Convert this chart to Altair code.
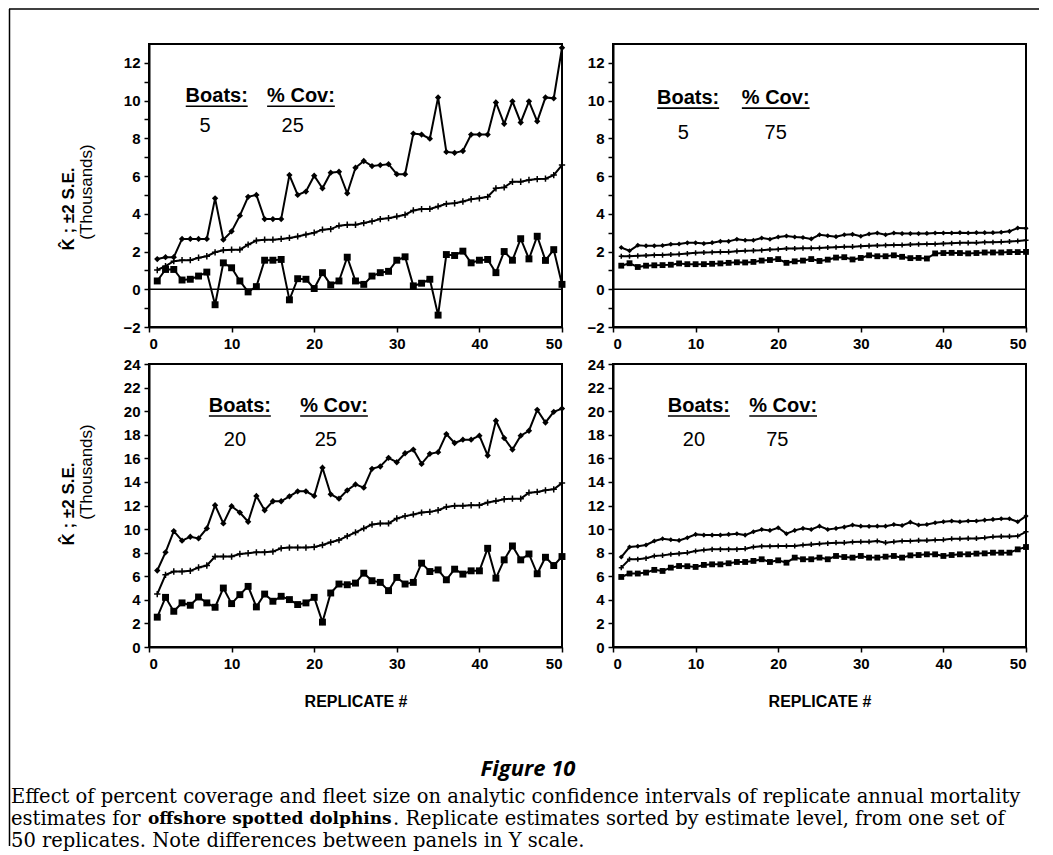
import altair as alt
import pandas as pd

replicate = list(range(1, 51))

# Panel: 5 boats, 25 % coverage
tl_upper = [1.60, 1.70, 1.70, 2.67, 2.67, 2.67, 2.67, 4.82, 2.63, 3.07,
            3.90, 4.90, 5.00, 3.72, 3.72, 3.72, 6.05, 5.00, 5.18, 6.02,
            5.35, 6.18, 6.23, 5.09, 6.44, 6.80, 6.53, 6.58, 6.63, 6.10,
            6.10, 8.25, 8.20, 7.98, 10.17, 7.28, 7.23, 7.33, 8.20, 8.20,
            8.20, 9.90, 8.77, 9.96, 8.84, 9.96, 8.90, 10.17, 10.12, 12.80]
tl_middle = [1.02, 1.23, 1.49, 1.54, 1.54, 1.67, 1.75, 1.96, 2.07, 2.10,
             2.10, 2.37, 2.58, 2.63, 2.63, 2.67, 2.72, 2.80, 2.90, 3.00,
             3.16, 3.19, 3.37, 3.42, 3.42, 3.51, 3.60, 3.72, 3.77, 3.86,
             3.95, 4.18, 4.25, 4.26, 4.39, 4.53, 4.56, 4.65, 4.77, 4.82,
             4.90, 5.35, 5.40, 5.70, 5.70, 5.79, 5.84, 5.86, 6.05, 6.58]
tl_lower = [0.44, 1.05, 1.05, 0.49, 0.53, 0.70, 0.91, -0.82, 1.40, 1.14,
            0.44, -0.14, 0.14, 1.54, 1.54, 1.58, -0.56, 0.56, 0.53, 0.04,
            0.88, 0.23, 0.44, 1.70, 0.44, 0.26, 0.70, 0.88, 0.95, 1.54,
            1.72, 0.18, 0.32, 0.53, -1.37, 1.84, 1.79, 2.02, 1.40, 1.54,
            1.58, 0.88, 2.00, 1.54, 2.68, 1.61, 2.81, 1.53, 2.10, 0.26]

# Panel: 5 boats, 75 % coverage
tr_upper = [2.21, 2.04, 2.33, 2.30, 2.30, 2.32, 2.39, 2.40, 2.46, 2.46,
            2.42, 2.47, 2.54, 2.54, 2.65, 2.60, 2.60, 2.72, 2.65, 2.77,
            2.82, 2.77, 2.74, 2.67, 2.89, 2.84, 2.79, 2.89, 2.91, 2.81,
            2.93, 2.98, 2.89, 2.98, 2.95, 2.95, 2.95, 2.96, 2.98, 2.98,
            2.98, 3.00, 2.98, 3.00, 3.00, 3.00, 3.02, 3.07, 3.25, 3.23]
tr_middle = [1.75, 1.75, 1.77, 1.79, 1.81, 1.81, 1.84, 1.86, 1.89, 1.93,
             1.95, 1.96, 1.98, 1.98, 2.02, 2.04, 2.05, 2.07, 2.11, 2.12,
             2.16, 2.16, 2.18, 2.18, 2.19, 2.21, 2.23, 2.25, 2.26, 2.28,
             2.30, 2.32, 2.33, 2.35, 2.35, 2.37, 2.39, 2.40, 2.40, 2.42,
             2.44, 2.46, 2.46, 2.47, 2.49, 2.49, 2.51, 2.53, 2.56, 2.60]
tr_lower = [1.25, 1.38, 1.18, 1.25, 1.27, 1.28, 1.30, 1.37, 1.33, 1.33,
            1.33, 1.35, 1.37, 1.40, 1.43, 1.42, 1.45, 1.52, 1.55, 1.60,
            1.40, 1.48, 1.52, 1.60, 1.50, 1.57, 1.68, 1.70, 1.58, 1.66,
            1.80, 1.75, 1.75, 1.80, 1.72, 1.65, 1.66, 1.63, 1.90, 1.92,
            1.93, 1.92, 1.90, 1.92, 1.95, 1.95, 1.95, 1.97, 1.97, 1.98]

# Panel: 20 boats, 25 % coverage
bl_upper = [6.49, 8.03, 9.83, 9.02, 9.35, 9.21, 10.06, 12.02, 10.48, 11.94,
            11.40, 10.62, 12.81, 11.60, 12.36, 12.36, 12.78, 13.20, 13.20, 12.81,
            15.20, 12.95, 12.58, 13.29, 13.79, 13.51, 15.11, 15.31, 16.04, 15.67,
            16.43, 16.74, 15.53, 16.38, 16.52, 18.06, 17.30, 17.58, 17.58, 17.92,
            16.24, 19.19, 17.72, 16.74, 17.92, 18.34, 20.11, 19.04, 19.94, 20.22]
bl_middle = [4.49, 6.12, 6.40, 6.40, 6.46, 6.74, 6.91, 7.67, 7.67, 7.67,
             7.89, 7.95, 8.03, 8.03, 8.09, 8.37, 8.43, 8.43, 8.43, 8.48,
             8.65, 8.88, 9.07, 9.41, 9.72, 10.06, 10.39, 10.48, 10.48, 10.90,
             11.10, 11.24, 11.40, 11.46, 11.60, 11.88, 11.97, 11.97, 12.02, 12.02,
             12.25, 12.39, 12.53, 12.58, 12.58, 13.09, 13.15, 13.29, 13.37, 13.90]
bl_lower = [2.53, 4.21, 3.03, 3.74, 3.54, 4.24, 3.74, 3.37, 5.00, 3.68,
            4.44, 5.14, 3.40, 4.49, 3.88, 4.30, 4.02, 3.60, 3.74, 4.21,
            2.11, 4.58, 5.34, 5.28, 5.42, 6.26, 5.62, 5.48, 4.78, 5.90,
            5.34, 5.48, 7.11, 6.40, 6.54, 5.70, 6.60, 6.18, 6.46, 6.46,
            8.37, 5.84, 7.39, 8.57, 7.39, 7.89, 6.21, 7.61, 6.91, 7.67]

# Panel: 20 boats, 75 % coverage
br_upper = [7.63, 8.48, 8.54, 8.65, 8.99, 9.18, 9.10, 9.04, 9.27, 9.55,
            9.49, 9.49, 9.49, 9.55, 9.61, 9.49, 9.77, 9.97, 9.89, 10.11,
            9.61, 9.89, 10.06, 9.97, 10.25, 9.97, 10.06, 10.17, 10.34, 10.25,
            10.23, 10.25, 10.25, 10.39, 10.31, 10.59, 10.34, 10.39, 10.54, 10.62,
            10.68, 10.62, 10.68, 10.68, 10.76, 10.82, 10.87, 10.87, 10.62, 11.10]
br_middle = [6.73, 7.44, 7.44, 7.52, 7.72, 7.77, 7.86, 7.92, 8.00, 8.14,
             8.23, 8.28, 8.28, 8.28, 8.28, 8.34, 8.48, 8.54, 8.54, 8.56,
             8.56, 8.56, 8.65, 8.70, 8.76, 8.79, 8.85, 8.85, 8.90, 8.93,
             8.93, 8.99, 8.85, 8.93, 8.99, 8.99, 9.04, 9.04, 9.07, 9.10,
             9.18, 9.18, 9.21, 9.21, 9.27, 9.35, 9.38, 9.38, 9.41, 9.77]
br_lower = [5.94, 6.23, 6.23, 6.31, 6.54, 6.45, 6.73, 6.87, 6.85, 6.79,
            6.96, 7.01, 7.01, 7.10, 7.21, 7.21, 7.30, 7.44, 7.21, 7.35,
            7.15, 7.58, 7.44, 7.44, 7.58, 7.44, 7.72, 7.63, 7.58, 7.72,
            7.58, 7.58, 7.66, 7.72, 7.58, 7.77, 7.80, 7.86, 7.86, 7.72,
            7.80, 7.86, 7.86, 7.92, 7.94, 8.00, 8.00, 8.00, 8.28, 8.48]

# Panel annotations: boats / % coverage
boats = ["5", "5", "20", "20"]
coverage = ["25", "75", "25", "75"]
header_texts = ["Boats:", "% Cov:"]

y_title_line1 = "K\u0302 ; \u00b12 S.E."
y_title_line2 = "(Thousands)"
x_title = "REPLICATE #"

fig_title = "Figure 10"
caption_line1 = ("Effect of percent coverage and fleet size on analytic confidence intervals "
                 "of replicate annual mortality")
caption_line2_a = "estimates for "
caption_line2_b = "offshore spotted dolphins"
caption_line2_c = ". Replicate estimates sorted by estimate level, from one set of"
caption_line3 = "50 replicates. Note differences between panels in Y scale."

W, H = 413, 283
SANS = "Liberation Sans"


def panel(upper, middle, lower, ydom, yvals, label_expr, ann, show_xtitle, ytitle_pos, small):
    df = pd.DataFrame({
        "rep": replicate * 3,
        "value": upper + middle + lower,
        "series": ["upper"] * 50 + ["middle"] * 50 + ["lower"] * 50,
    })
    xaxis = alt.Axis(values=[0, 10, 20, 30, 40, 50], title=x_title if show_xtitle else None,
                     titlePadding=22, labelOverlap=False)
    xenc = alt.X("rep:Q", scale=alt.Scale(domain=[0, 50], nice=False, zero=False), axis=xaxis)
    yenc = alt.Y("value:Q", scale=alt.Scale(domain=ydom, nice=False, zero=False),
                 axis=alt.Axis(values=yvals, labelExpr=label_expr, title=None,
                               labelOverlap=False))
    base = alt.Chart(df).encode(x=xenc, y=yenc)
    msz = 26 if small else 40
    lines = base.mark_line(color="black", strokeWidth=2).encode(detail="series:N")
    pts_up = base.transform_filter(alt.datum.series == "upper").mark_point(
        shape="diamond", filled=True, color="black", size=msz, opacity=1)
    pts_mid = base.transform_filter(alt.datum.series == "middle").mark_point(
        shape="M-1,0L1,0M0,-1L0,1", filled=False, color="black", size=msz, strokeWidth=1.5, opacity=1)
    pts_lo = base.transform_filter(alt.datum.series == "lower").mark_point(
        shape="square", filled=True, color="black", size=msz + 8, opacity=1)

    layers = []
    if ydom[0] < 0:
        zero = alt.Chart(pd.DataFrame({"value": [0]})).mark_rule(
            color="black", strokeWidth=1.5).encode(y=yenc)
        layers.append(zero)
    layers += [lines, pts_up, pts_mid, pts_lo]

    # annotation texts
    hx, hy, nx, ny, b, c = ann
    head_df = pd.DataFrame({"rep": [hx[0], hx[1]], "value": [hy, hy], "text": header_texts,
                            "rep2": [hx[0] - 3.75, hx[1] - 4.1], "rep3": [hx[0] + 3.75, hx[1] + 4.1]})
    heads = alt.Chart(head_df).mark_text(font=SANS, fontWeight="bold", fontSize=20,
                                         color="black", align="center", baseline="middle").encode(
        x=xenc, y=yenc, text="text:N")
    unders = alt.Chart(head_df).mark_rule(color="black", strokeWidth=1.6, yOffset=10).encode(
        x=alt.X("rep2:Q", scale=alt.Scale(domain=[0, 50], nice=False, zero=False), axis=xaxis),
        x2="rep3:Q", y=yenc)
    num_df = pd.DataFrame({"rep": [nx[0], nx[1]], "value": [ny, ny], "text": [b, c]})
    nums = alt.Chart(num_df).mark_text(font=SANS, fontWeight="normal", fontSize=20,
                                       color="black", align="center", baseline="middle").encode(
        x=xenc, y=yenc, text="text:N")
    layers += [heads, unders, nums]

    if ytitle_pos is not None:
        k_y, t_y = ytitle_pos
        t1 = alt.Chart(pd.DataFrame({"t": [y_title_line1]})).mark_text(
            font=SANS, fontWeight="bold", fontSize=17, angle=270, color="black",
            align="center", baseline="middle").encode(
            text="t:N", x=alt.value(-80), y=alt.value(k_y))
        t2 = alt.Chart(pd.DataFrame({"t": [y_title_line2]})).mark_text(
            font=SANS, fontWeight="normal", fontSize=17, angle=270, color="black",
            align="center", baseline="middle").encode(
            text="t:N", x=alt.value(-62), y=alt.value(t_y))
        layers += [t1, t2]

    return alt.layer(*layers).properties(
        width=W, height=H, view=alt.ViewBackground(stroke="black", strokeWidth=2))


top_vals = list(range(-2, 13))
top_expr = "datum.value % 2 == 0 ? datum.label : ''"
bot_vals = list(range(0, 25, 2))
bot_expr = "datum.label"

tl = panel(tl_upper, tl_middle, tl_lower, [-2, 13], top_vals, top_expr,
           ([8.2, 18.4], 10.23, [6.8, 17.4], 8.64, boats[0], coverage[0]), False, (165, 148), False)
tr = panel(tr_upper, tr_middle, tr_lower, [-2, 13], top_vals, top_expr,
           ([9.1, 19.7], 10.13, [8.5, 19.7], 8.28, boats[1], coverage[1]), False, None, True)
bl = panel(bl_upper, bl_middle, bl_lower, [0, 24], bot_vals, bot_expr,
           ([11.0, 22.4], 20.44, [10.4, 21.4], 17.56, boats[2], coverage[2]), True, (140, 108), False)
br = panel(br_upper, br_middle, br_lower, [0, 24], bot_vals, bot_expr,
           ([10.4, 20.6], 20.44, [9.8, 19.9], 17.56, boats[3], coverage[3]), True, None, True)

# caption block: its view sits at page (148, 683); texts placed relative to it,
# and the figure frame lines are drawn from here too
one = pd.DataFrame({"t": [fig_title]})
serif = "DejaVu Serif"
CAP = 19.5
cap_layers = [
    alt.Chart(pd.DataFrame({"t": [fig_title]})).mark_text(
        font="Open Sans", fontWeight="bold", fontStyle="italic", fontSize=22, color="black",
        align="center", baseline="middle").encode(text="t:N", x=alt.value(379), y=alt.value(85)),
    alt.Chart(pd.DataFrame({"t": [caption_line1]})).mark_text(
        font=serif, fontSize=CAP, color="black", align="left", baseline="middle").encode(
        text="t:N", x=alt.value(-138), y=alt.value(113)),
    alt.Chart(pd.DataFrame({"t": [caption_line2_a]})).mark_text(
        font=serif, fontSize=CAP, color="black", align="left", baseline="middle").encode(
        text="t:N", x=alt.value(-138), y=alt.value(135)),
    alt.Chart(pd.DataFrame({"t": [caption_line2_b]})).mark_text(
        font=serif, fontWeight="bold", fontSize=17, color="black", align="left",
        baseline="middle").encode(text="t:N", x=alt.value(-1), y=alt.value(135)),
    alt.Chart(pd.DataFrame({"t": [caption_line2_c]})).mark_text(
        font=serif, fontSize=CAP, color="black", align="left", baseline="middle").encode(
        text="t:N", x=alt.value(244), y=alt.value(135)),
    alt.Chart(pd.DataFrame({"t": [caption_line3]})).mark_text(
        font=serif, fontSize=CAP, color="black", align="left", baseline="middle").encode(
        text="t:N", x=alt.value(-138), y=alt.value(157)),
    alt.Chart(one).mark_rule(color="black", strokeWidth=1.5).encode(
        x=alt.value(-139.5), y=alt.value(-675), y2=alt.value(162)),
    alt.Chart(one).mark_rule(color="black", strokeWidth=1.5).encode(
        x=alt.value(-140), x2=alt.value(890), y=alt.value(-675)),
]
caption = alt.layer(*cap_layers).properties(
    width=W, height=150, view=alt.ViewBackground(strokeOpacity=0))

chart = alt.concat(tl, tr, bl, br, caption, columns=2,
                   spacing=alt.RowColnumber(row=37, column=51), bounds="flush").properties(
    padding={"left": 0, "top": 0, "right": 0, "bottom": 0}
).configure_axis(
    domainColor="black", domainWidth=2, tickColor="black", tickWidth=1.5, tickSize=5,
    labelFont=SANS, labelFontWeight="bold", labelFontSize=15, labelColor="black",
    labelPadding=4, grid=False, titleFont=SANS, titleFontWeight="bold",
    titleFontSize=16, titleColor="black"
).configure_view(stroke="black", strokeWidth=2)

chart.save("out.html", embed_options={"renderer": "svg", "actions": False})
